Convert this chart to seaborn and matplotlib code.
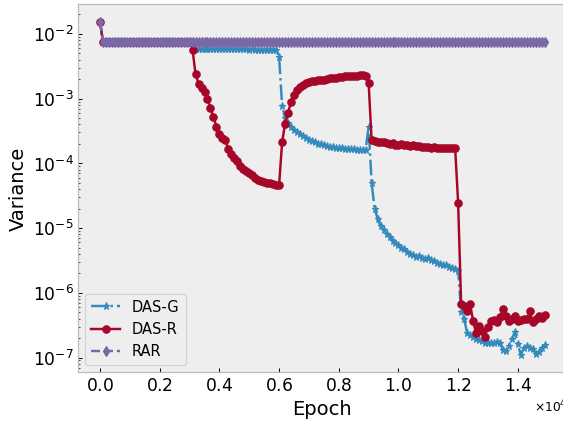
import matplotlib
matplotlib.use("Agg")
import matplotlib.pyplot as plt
import pandas as pd
import seaborn as sns

# Training epochs at which the variance was recorded
epochs = list(range(0, 15000, 100))

das_g = [
    1.52e-2, 7.45e-3, 7.45e-3, 7.45e-3, 7.45e-3, 7.45e-3, 7.45e-3, 7.45e-3, 7.45e-3, 7.45e-3,
    7.45e-3, 7.45e-3, 7.45e-3, 7.45e-3, 7.45e-3, 7.45e-3, 7.45e-3, 7.45e-3, 7.45e-3, 7.45e-3,
    7.45e-3, 7.45e-3, 7.45e-3, 7.45e-3, 7.45e-3, 7.45e-3, 7.45e-3, 7.45e-3, 7.45e-3, 7.45e-3,
    7.45e-3, 5.85e-3, 5.82e-3, 5.80e-3, 5.80e-3, 5.78e-3, 5.80e-3, 5.79e-3, 5.78e-3, 5.78e-3,
    5.77e-3, 5.78e-3, 5.76e-3, 5.76e-3, 5.75e-3, 5.76e-3, 5.75e-3, 5.74e-3, 5.75e-3, 5.74e-3,
    5.73e-3, 5.74e-3, 5.73e-3, 5.72e-3, 5.73e-3, 5.72e-3, 5.71e-3, 5.72e-3, 5.71e-3, 5.70e-3,
    4.4e-3, 7.8e-4, 5.0e-4, 4.2e-4, 3.7e-4, 3.3e-4, 3.0e-4, 2.8e-4, 2.6e-4, 2.45e-4,
    2.3e-4, 2.2e-4, 2.1e-4, 2.02e-4, 1.96e-4, 1.9e-4, 1.85e-4, 1.81e-4, 1.78e-4, 1.75e-4,
    1.72e-4, 1.7e-4, 1.68e-4, 1.66e-4, 1.65e-4, 1.64e-4, 1.63e-4, 1.62e-4, 1.62e-4, 1.63e-4,
    3.7e-4, 5.0e-5, 2.0e-5, 1.4e-5, 1.06e-5, 9.3e-6, 8.2e-6, 7.3e-6, 6.4e-6, 5.9e-6,
    5.4e-6, 5.0e-6, 4.7e-6, 4.3e-6, 4.0e-6, 3.8e-6, 3.6e-6, 3.7e-6, 3.45e-6, 3.3e-6,
    3.4e-6, 3.2e-6, 3.05e-6, 2.9e-6, 2.8e-6, 2.65e-6, 2.7e-6, 2.5e-6, 2.4e-6, 2.3e-6,
    2.2e-6, 5.0e-7, 4.0e-7, 2.4e-7, 2.2e-7, 2.1e-7, 1.9e-7, 1.85e-7, 1.8e-7, 1.7e-7,
    1.65e-7, 1.7e-7, 1.65e-7, 1.75e-7, 1.7e-7, 1.3e-7, 1.25e-7, 1.5e-7, 1.9e-7, 2.5e-7,
    1.6e-7, 1.1e-7, 1.4e-7, 1.5e-7, 1.4e-7, 1.35e-7, 1.15e-7, 1.2e-7, 1.4e-7, 1.58e-7,
]

das_r = [
    1.52e-2, 7.45e-3, 7.45e-3, 7.45e-3, 7.45e-3, 7.45e-3, 7.45e-3, 7.45e-3, 7.45e-3, 7.45e-3,
    7.45e-3, 7.45e-3, 7.45e-3, 7.45e-3, 7.45e-3, 7.45e-3, 7.45e-3, 7.45e-3, 7.45e-3, 7.45e-3,
    7.45e-3, 7.45e-3, 7.45e-3, 7.45e-3, 7.45e-3, 7.45e-3, 7.45e-3, 7.45e-3, 7.45e-3, 7.45e-3,
    7.45e-3, 5.6e-3, 2.4e-3, 1.7e-3, 1.45e-3, 1.25e-3, 1.0e-3, 7.1e-4, 5.2e-4, 3.7e-4,
    2.8e-4, 2.45e-4, 2.3e-4, 1.65e-4, 1.4e-4, 1.2e-4, 1.08e-4, 9.2e-5, 8.3e-5, 7.6e-5,
    7.1e-5, 6.5e-5, 6.0e-5, 5.6e-5, 5.3e-5, 5.1e-5, 5.0e-5, 4.9e-5, 4.8e-5, 4.7e-5,
    4.6e-5, 2.1e-4, 4.1e-4, 6.0e-4, 9.0e-4, 1.15e-3, 1.35e-3, 1.5e-3, 1.65e-3, 1.75e-3,
    1.8e-3, 1.85e-3, 1.9e-3, 1.92e-3, 1.95e-3, 1.95e-3, 2.0e-3, 2.05e-3, 2.1e-3, 2.1e-3,
    2.12e-3, 2.15e-3, 2.2e-3, 2.2e-3, 2.2e-3, 2.25e-3, 2.25e-3, 2.3e-3, 2.3e-3, 2.25e-3,
    1.75e-3, 2.3e-4, 2.2e-4, 2.15e-4, 2.15e-4, 2.1e-4, 2.05e-4, 2.0e-4, 2.05e-4, 1.95e-4,
    1.95e-4, 2.0e-4, 1.9e-4, 1.9e-4, 1.85e-4, 1.9e-4, 1.85e-4, 1.85e-4, 1.8e-4, 1.8e-4,
    1.8e-4, 1.75e-4, 1.8e-4, 1.75e-4, 1.7e-4, 1.75e-4, 1.7e-4, 1.75e-4, 1.7e-4, 1.7e-4,
    2.4e-5, 6.7e-7, 6.3e-7, 5.2e-7, 6.7e-7, 3.7e-7, 2.4e-7, 3.1e-7, 2.6e-7, 2.1e-7,
    3.0e-7, 3.6e-7, 3.8e-7, 3.5e-7, 4.2e-7, 5.6e-7, 4.4e-7, 3.6e-7, 3.9e-7, 4.4e-7,
    3.6e-7, 3.8e-7, 4.0e-7, 3.9e-7, 5.2e-7, 3.5e-7, 4.0e-7, 4.3e-7, 4.1e-7, 4.6e-7,
]

rar = [
    1.52e-2, 7.45e-3, 7.45e-3, 7.45e-3, 7.45e-3, 7.45e-3, 7.45e-3, 7.45e-3, 7.45e-3, 7.45e-3,
    7.45e-3, 7.45e-3, 7.45e-3, 7.45e-3, 7.45e-3, 7.45e-3, 7.45e-3, 7.45e-3, 7.45e-3, 7.45e-3,
    7.45e-3, 7.45e-3, 7.45e-3, 7.45e-3, 7.45e-3, 7.45e-3, 7.45e-3, 7.45e-3, 7.45e-3, 7.45e-3,
    7.45e-3, 7.45e-3, 7.45e-3, 7.45e-3, 7.45e-3, 7.45e-3, 7.45e-3, 7.45e-3, 7.45e-3, 7.45e-3,
    7.45e-3, 7.45e-3, 7.45e-3, 7.45e-3, 7.45e-3, 7.45e-3, 7.45e-3, 7.45e-3, 7.45e-3, 7.45e-3,
    7.45e-3, 7.45e-3, 7.45e-3, 7.45e-3, 7.45e-3, 7.45e-3, 7.45e-3, 7.45e-3, 7.45e-3, 7.45e-3,
    7.45e-3, 7.45e-3, 7.45e-3, 7.45e-3, 7.45e-3, 7.45e-3, 7.45e-3, 7.45e-3, 7.45e-3, 7.45e-3,
    7.45e-3, 7.45e-3, 7.45e-3, 7.45e-3, 7.45e-3, 7.45e-3, 7.45e-3, 7.45e-3, 7.45e-3, 7.45e-3,
    7.45e-3, 7.45e-3, 7.45e-3, 7.45e-3, 7.45e-3, 7.45e-3, 7.45e-3, 7.45e-3, 7.45e-3, 7.45e-3,
    7.45e-3, 7.45e-3, 7.45e-3, 7.45e-3, 7.45e-3, 7.45e-3, 7.45e-3, 7.45e-3, 7.45e-3, 7.45e-3,
    7.45e-3, 7.45e-3, 7.45e-3, 7.45e-3, 7.45e-3, 7.45e-3, 7.45e-3, 7.45e-3, 7.45e-3, 7.45e-3,
    7.45e-3, 7.45e-3, 7.45e-3, 7.45e-3, 7.45e-3, 7.45e-3, 7.45e-3, 7.45e-3, 7.45e-3, 7.45e-3,
    7.45e-3, 7.45e-3, 7.45e-3, 7.45e-3, 7.45e-3, 7.45e-3, 7.45e-3, 7.45e-3, 7.45e-3, 7.45e-3,
    7.45e-3, 7.45e-3, 7.45e-3, 7.45e-3, 7.45e-3, 7.45e-3, 7.45e-3, 7.45e-3, 7.45e-3, 7.45e-3,
    7.45e-3, 7.45e-3, 7.45e-3, 7.45e-3, 7.45e-3, 7.45e-3, 7.45e-3, 7.45e-3, 7.45e-3, 7.45e-3,
]

methods = ["DAS-G", "DAS-R", "RAR"]
values = {"DAS-G": das_g, "DAS-R": das_r, "RAR": rar}

styles = {
    "DAS-G": dict(color="#348ABD", linestyle="-.", marker="*"),
    "DAS-R": dict(color="#A60628", linestyle="-", marker="o"),
    "RAR": dict(color="#7A68A6", linestyle="--", marker="d"),
}

df = pd.concat(
    [pd.DataFrame({"Epoch": epochs, "Variance": values[m], "method": m}) for m in methods],
    ignore_index=True,
)

plt.rcParams.update({
    "font.family": ["DejaVu Sans"],
    "axes.unicode_minus": False,
    "axes.facecolor": "#eeeeee",
    "axes.edgecolor": "#bcbcbc",
    "axes.linewidth": 1.0,
    "axes.grid": False,
    "xtick.direction": "in",
    "ytick.direction": "in",
    "lines.linewidth": 2.0,
})

fig = plt.figure(figsize=(6.4, 4.8), dpi=88)
ax = fig.add_axes([0.1382, 0.1178, 0.8684, 0.8711])

for m in methods:
    st = styles[m]
    sns.lineplot(
        data=df[df["method"] == m], x="Epoch", y="Variance", ax=ax,
        color=st["color"], linestyle=st["linestyle"], marker=st["marker"],
        markersize=6, markeredgecolor=st["color"], markeredgewidth=1.0,
        linewidth=2.0, label=m, errorbar=None, sort=False,
    )

ax.set_yscale("log")
ax.set_xlim(-745, 15645)
ax.set_ylim(5.92e-8, 2.862e-2)
ax.ticklabel_format(axis="x", style="sci", scilimits=(0, 0), useMathText=True)
ax.tick_params(axis="both", which="major", labelsize=14)

ax.set_xlabel("Epoch", fontsize=16)
ax.set_ylabel("Variance", fontsize=16)

ax.legend(loc="lower left", fontsize=12)

fig.savefig("out.png", dpi=88)
